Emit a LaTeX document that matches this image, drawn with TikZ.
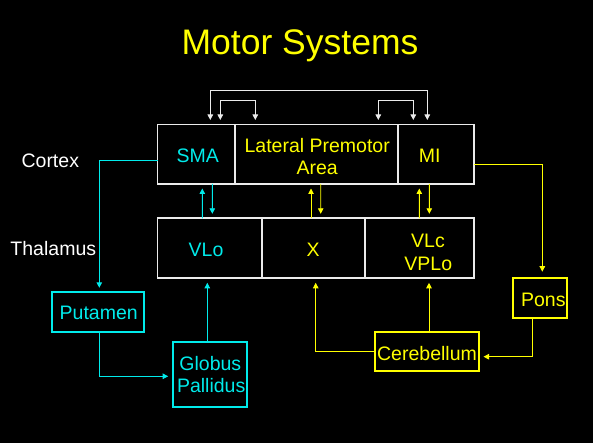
\documentclass[tikz,border=0pt]{standalone}
\usepackage{fontspec}
\setmainfont{Liberation Sans}
\usetikzlibrary{arrows.meta}
\definecolor{cy}{RGB}{0,235,235}
\definecolor{ye}{RGB}{255,255,0}
\definecolor{wl}{RGB}{235,235,235}
\begin{document}
\begin{tikzpicture}[x=1pt,y=-1pt,
  box/.style={draw, rectangle, line width=1.7pt, inner sep=0pt, outer sep=0pt},
  wbox/.style={box, draw=wl},
  txt/.style={anchor=base, inner sep=0pt, font=\fontsize{19.5}{22}\selectfont},
  arr/.style={line width=0.9pt, -{Triangle[length=5.5pt,width=5.5pt]}, shorten >=4.5pt},
  barr/.style={line width=0.9pt, {Triangle[length=5.5pt,width=5.5pt]}-{Triangle[length=5.5pt,width=5.5pt]}, shorten >=4.5pt, shorten <=4.5pt, draw=wl}
]
\fill[black] (0,0) rectangle (593,443);
\useasboundingbox (0,0) rectangle (593,443);

% title
\node[txt, text=ye, font=\fontsize{35.5}{40}\selectfont] (title) at (300,55) {Motor Systems};

% side labels
\node[txt, text=white] (cortexlbl) at (50.3,167.3) {Cortex};
\node[txt, text=white] (thallbl) at (53.3,255) {Thalamus};

% cortex cells
\node[wbox, minimum width=77.8pt, minimum height=59.5pt] (sma) at (196.4,154.25) {};
\node[wbox, minimum width=163pt, minimum height=59.5pt] (lpa) at (316.8,154.25) {};
\node[wbox, minimum width=75.7pt, minimum height=59.5pt] (mi) at (436.15,154.25) {};

% thalamus cells
\node[wbox, minimum width=104.2pt, minimum height=60pt] (vlo) at (209.6,248.3) {};
\node[wbox, minimum width=103.3pt, minimum height=60pt] (xcell) at (313.35,248.3) {};
\node[wbox, minimum width=109pt, minimum height=60pt] (vlc) at (419.5,248.3) {};

% other boxes
\node[box, draw=cy, minimum width=91.4pt, minimum height=40pt] (putamen) at (98,312.3) {};
\node[box, draw=cy, minimum width=74.6pt, minimum height=65pt] (globus) at (210,374.2) {};
\node[box, draw=ye, minimum width=104.3pt, minimum height=39.3pt] (cereb) at (426.85,351.35) {};
\node[box, draw=ye, minimum width=54.6pt, minimum height=40pt] (pons) at (540,297.7) {};

% texts
\node[txt, text=cy] (smat) at (197.8,162.7) {SMA};
\node[txt, text=ye] (lpat1) at (317.2,152.7) {Lateral Premotor};
\node[txt, text=ye] (lpat2) at (317.2,175) {Area};
\node[txt, text=ye] (mit) at (429.7,162.7) {MI};
\node[txt, text=cy] (vlot) at (206,256) {VLo};
\node[txt, text=ye] (xt) at (313,256) {X};
\node[txt, text=ye] (vlct1) at (428,247.3) {VLc};
\node[txt, text=ye] (vlct2) at (428.3,270) {VPLo};
\node[txt, text=cy] (putt) at (98.7,319.3) {Putamen};
\node[txt, text=cy] (glot1) at (210.3,370) {Globus};
\node[txt, text=cy] (glot2) at (211.2,392.7) {Pallidus};
\node[txt, text=ye] (cert) at (427,360) {Cerebellum};
\node[txt, text=ye] (ponst) at (543.3,306) {Pons};

% cortical brackets
\draw[barr] ([xshift=13.9pt]sma.north) -- ++(0,-33.8) -| ([xshift=-8.85pt]mi.north);
\draw[barr] ([xshift=23.9pt]sma.north) -- ++(0,-24.2) -| ([xshift=-61.5pt]lpa.north);
\draw[barr] ([xshift=61.5pt]lpa.north) -- ++(0,-24.2) -| ([xshift=-22.85pt]mi.north);

% cortex <-> thalamus
\draw[arr, cy] ([xshift=-7.3pt]vlo.north) -- ([xshift=5.9pt]sma.south);
\draw[arr, cy] ([xshift=15.9pt]sma.south) -- ([xshift=2.7pt]vlo.north);
\draw[arr, ye] ([xshift=-2.35pt]xcell.north) -- ([xshift=-5.8pt]lpa.south);
\draw[arr, ye] ([xshift=3.9pt]lpa.south) -- ([xshift=7.35pt]xcell.north);
\draw[arr, ye] ([xshift=-0.2pt]vlc.north) -- ([xshift=-16.85pt]mi.south);
\draw[arr, ye] ([xshift=-6.85pt]mi.south) -- ([xshift=9.8pt]vlc.north);

% basal ganglia loop
\draw[arr, cy] ([yshift=-5.75pt]sma.west) -| ([xshift=1.3pt]putamen.north);
\draw[arr, cy] ([xshift=1pt]putamen.south) |- ([yshift=-2.1pt]globus.west);
\draw[arr, cy] ([xshift=-2.7pt]globus.north) -- ([xshift=-2.3pt]vlo.south);

% cerebellar loop
\draw[arr, ye, shorten >=6pt] ([yshift=-10.45pt]mi.east) -| ([xshift=2.3pt]pons.north);
\draw[arr, ye] ([xshift=-7.3pt]pons.south) |- ([yshift=-5.35pt]cereb.east);
\draw[arr, ye] ([yshift=-0.35pt]cereb.west) -| ([xshift=2.35pt]xcell.south);
\draw[arr, ye] ([xshift=2.15pt]cereb.north) -- ([xshift=9.5pt]vlc.south);
\end{tikzpicture}
\end{document}
